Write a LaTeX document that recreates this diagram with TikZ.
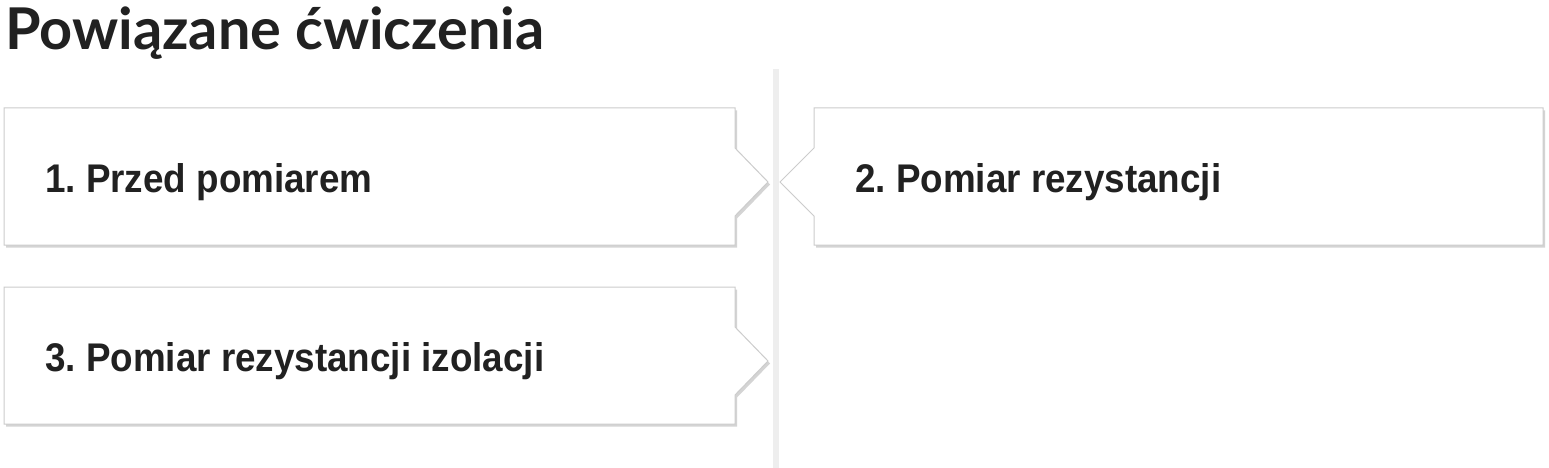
\documentclass[tikz,border=0pt]{standalone}
\usepackage{fontspec}
\setmainfont{Liberation Sans}
\newfontfamily\titlefont{Lato}
\newfontfamily\cardfont{Liberation Sans}[FakeStretch=0.92]
\usetikzlibrary{shadows}
\usepackage{xcolor}
\definecolor{InkGrey}{RGB}{33,33,33}
\definecolor{EdgeGrey}{RGB}{204,204,204}
\definecolor{RuleGrey}{RGB}{238,238,238}
\frenchspacing

\begin{document}
\begin{tikzpicture}[x=1pt, y=-1pt,
          card/.style={draw=EdgeGrey, line width=1pt, fill=white, line join=miter,
            drop shadow={shadow xshift=2pt, shadow yshift=-2.5pt, fill=black!17, opacity=1}},
          label/.style={anchor=base west, inner sep=0pt, text=InkGrey, font=\cardfont\fontsize{40}{48}\selectfont\bfseries},
          heading/.style={anchor=base west, inner sep=0pt, text=InkGrey, font=\titlefont\fontsize{57.6}{70}\selectfont\bfseries}
        ]
          \useasboundingbox[fill=white] (0,0) rectangle (1549,468);

          \node (title) [heading] at (5,50) {Powiązane ćwiczenia};

          % divider between the two columns
          \fill[RuleGrey] (773,69) rectangle (779,468);

          % cards pointing to the divider
          \draw[card] (4,108) -- (735,108) -- (735,148) -- (768,182) -- (735,216) -- (735,245) -- (4,245) -- cycle;
          \node (c1) [label] at (45,192) {1. Przed pomiarem};

          \draw[card] (814,108) -- (1543,108) -- (1543,245) -- (814,245) -- (814,216) -- (780,182) -- (814,148) -- cycle;
          \node (c2) [label] at (855,192) {2. Pomiar rezystancji};

          \draw[card] (4,287) -- (735,287) -- (735,327) -- (768,361) -- (735,395) -- (735,424) -- (4,424) -- cycle;
          \node (c3) [label] at (45,371) {3. Pomiar rezystancji izolacji};
        \end{tikzpicture}
\end{document}
